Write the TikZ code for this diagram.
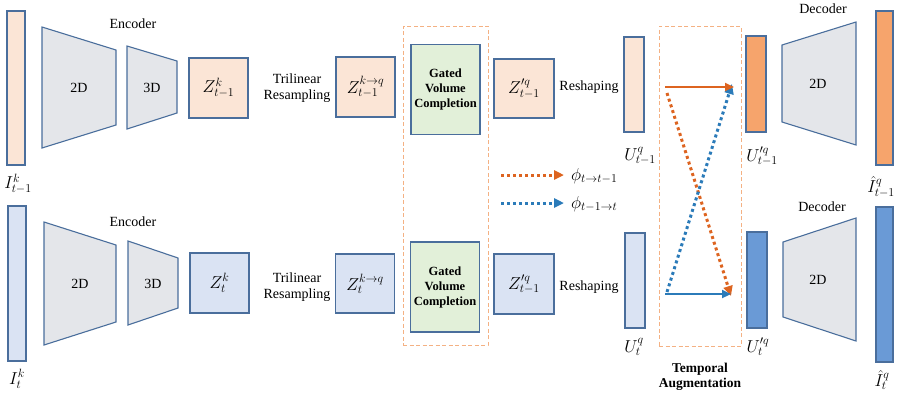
\documentclass[tikz,border=0pt]{standalone}
\usepackage{fontspec}
\setmainfont{Liberation Serif}
\usetikzlibrary{arrows.meta}
\definecolor{peach}{HTML}{FBE5D6}
\definecolor{lblue}{HTML}{DAE3F3}
\definecolor{bord}{HTML}{4A6E9C}
\definecolor{trap}{HTML}{E4E6EA}
\definecolor{lgreen}{HTML}{E2F0D9}
\definecolor{dorange}{HTML}{F6A46C}
\definecolor{dblue}{HTML}{6A9AD6}
\definecolor{arrorange}{HTML}{DD6420}
\definecolor{arrblue}{HTML}{2B7BB9}
\definecolor{dashor}{HTML}{F4B183}
\tikzset{
  box/.style={draw=bord, line width=1.1pt, inner sep=0pt, outer sep=0pt, minimum width=#1},
  box/.default=59pt,
  lbl/.style={font=\fontsize{14}{16}\selectfont, inner sep=0pt, align=center},
  mlbl/.style={font=\fontsize{17.28}{20}\selectfont, inner sep=0pt},
  trapz/.style={draw=bord, line width=1.1pt, fill=trap, line join=miter},
  gvc/.style={box=69pt, minimum height=90pt, fill=lgreen, font=\fontsize{12.5}{15}\selectfont\bfseries, align=center},
  dashbox/.style={draw=dashor, line width=1pt, dash pattern=on 4pt off 2.5pt},
  solidarr/.style={line width=2.2pt, -{Triangle[length=9pt,width=8pt]}},
  dotarr/.style={line width=3pt, dash pattern=on 3pt off 3pt, -{Triangle[length=10pt,width=9pt]}},
}
\begin{document}
\begin{tikzpicture}[x=1pt,y=-1pt]
\useasboundingbox (0,0) rectangle (897,394);
% dashed group boxes
\node[dashbox, minimum width=85pt, minimum height=319pt, inner sep=0pt] (gbox) at (445.5,185.5) {};
\node[dashbox, minimum width=82pt, minimum height=320pt, inner sep=0pt] (tbox) at (700,186) {};
% ---------- top row ----------
\node[box=18pt, minimum height=154pt, fill=peach] (Ik1) at (16,88) {};
\node[mlbl] (Ik1l) at (18,184) {$I^{k}_{t-1}$};
\draw[trapz] (42,27) -- (116,50) -- (116,125) -- (42,148) -- cycle;
\node[lbl] (e2d1) at (79,88) {2D};
\draw[trapz] (127,46) -- (177,61) -- (177,113) -- (127,129) -- cycle;
\node[lbl] (e3d1) at (152,88) {3D};
\node[lbl] (enc1) at (133,24) {Encoder};
\node[box, minimum height=60pt, fill=peach, mlbl] (Zk1) at (218.5,88) {$Z^{k}_{t-1}$};
\node[lbl] (tri1) at (297,88) {Trilinear\\Resampling};
\node[box, minimum height=60pt, fill=peach, mlbl] (Zkq1) at (365.5,87) {$Z^{k\rightarrow q}_{t-1}$};
\node[gvc] (G1) at (445.5,89.5) {Gated\\Volume\\Completion};
\node[box=60pt, minimum height=59pt, fill=peach, mlbl] (Zq1) at (524,88.5) {$Z'^{q}_{t-1}$};
\node[lbl] (res1) at (589,87) {Reshaping};
\node[box=20pt, minimum height=95pt, fill=peach] (U1) at (634,84.5) {};
\node[mlbl] (U1l) at (640,156) {$U^{q}_{t-1}$};
\node[box=20pt, minimum height=96pt, fill=dorange] (Up1) at (756,84) {};
\node[mlbl] (Up1l) at (762,156) {$U'^{q}_{t-1}$};
\draw[trapz] (782,45) -- (856,22) -- (856,145) -- (782,122) -- cycle;
\node[lbl] (d2d1) at (818,84) {2D};
\node[lbl] (dec1) at (823,9) {Decoder};
\node[box=17pt, minimum height=154pt, fill=dorange] (Ih1) at (884.5,88) {};
\node[mlbl] (Ih1l) at (881,187) {$\hat{I}^{q}_{t-1}$};
% ---------- bottom row ----------
\node[box=18pt, minimum height=155pt, fill=lblue] (Ik2) at (17,283.5) {};
\node[mlbl] (Ik2l) at (17,379) {$I^{k}_{t}$};
\draw[trapz] (44,222) -- (116,245) -- (116,322) -- (44,345) -- cycle;
\node[lbl] (e2d2) at (80,284) {2D};
\draw[trapz] (128,241) -- (178,258) -- (178,308) -- (128,325) -- cycle;
\node[lbl] (e3d2) at (153,284) {3D};
\node[lbl] (enc2) at (133,222) {Encoder};
\node[box, minimum height=60pt, fill=lblue, mlbl] (Zk2) at (219.5,283) {$Z^{k}_{t}$};
\node[lbl] (tri2) at (297,287) {Trilinear\\Resampling};
\node[box, minimum height=59pt, fill=lblue, mlbl] (Zkq2) at (365,283.5) {$Z^{k\rightarrow q}_{t}$};
\node[gvc] (G2) at (445,287) {Gated\\Volume\\Completion};
\node[box=60pt, minimum height=60pt, fill=lblue, mlbl] (Zq2) at (524,284) {$Z'^{q}_{t-1}$};
\node[lbl] (res2) at (589,287) {Reshaping};
\node[box=20pt, minimum height=95pt, fill=lblue] (U2) at (635,280.5) {};
\node[mlbl] (U2l) at (634,347) {$U^{q}_{t}$};
\node[box=20pt, minimum height=96pt, fill=dblue] (Up2) at (757,280) {};
\node[mlbl] (Up2l) at (758,347) {$U'^{q}_{t}$};
\draw[trapz] (783,242) -- (856,218) -- (856,341) -- (783,317) -- cycle;
\node[lbl] (d2d2) at (818,280) {2D};
\node[lbl] (dec2) at (822,207) {Decoder};
\node[box=17pt, minimum height=155pt, fill=dblue] (Ih2) at (884.5,284.5) {};
\node[mlbl] (Ih2l) at (882,380) {$\hat{I}^{q}_{t}$};
\node[lbl, font=\fontsize{13.5}{15}\selectfont\bfseries] (ta) at (700,377) {Temporal\\Augmentation};
% ---------- temporal augmentation arrows ----------
\coordinate (a1s) at (665,87);
\coordinate (a1e) at (734,87);
\coordinate (a2s) at (667,93);
\coordinate (a2e) at (731,296);
\coordinate (a3s) at (667,292);
\coordinate (a3e) at (732,84);
\coordinate (a4s) at (665,294);
\coordinate (a4e) at (731,294);
\draw[dotarr, arrorange] (a2s) -- (a2e);
\draw[dotarr, arrblue] (a3s) -- (a3e);
\draw[solidarr, arrorange] (a1s) -- (a1e);
\draw[solidarr, arrblue] (a4s) -- (a4e);
% ---------- legend ----------
\coordinate (l1s) at (501,175);
\coordinate (l1e) at (564,175);
\coordinate (l2s) at (501,203);
\coordinate (l2e) at (564,203);
\draw[dotarr, arrorange] (l1s) -- (l1e);
\draw[dotarr, arrblue] (l2s) -- (l2e);
\node[mlbl, anchor=west] (l1t) at (571,176) {$\phi_{t\rightarrow t-1}$};
\node[mlbl, anchor=west] (l2t) at (571,204) {$\phi_{t-1\rightarrow t}$};
\end{tikzpicture}
\end{document}
